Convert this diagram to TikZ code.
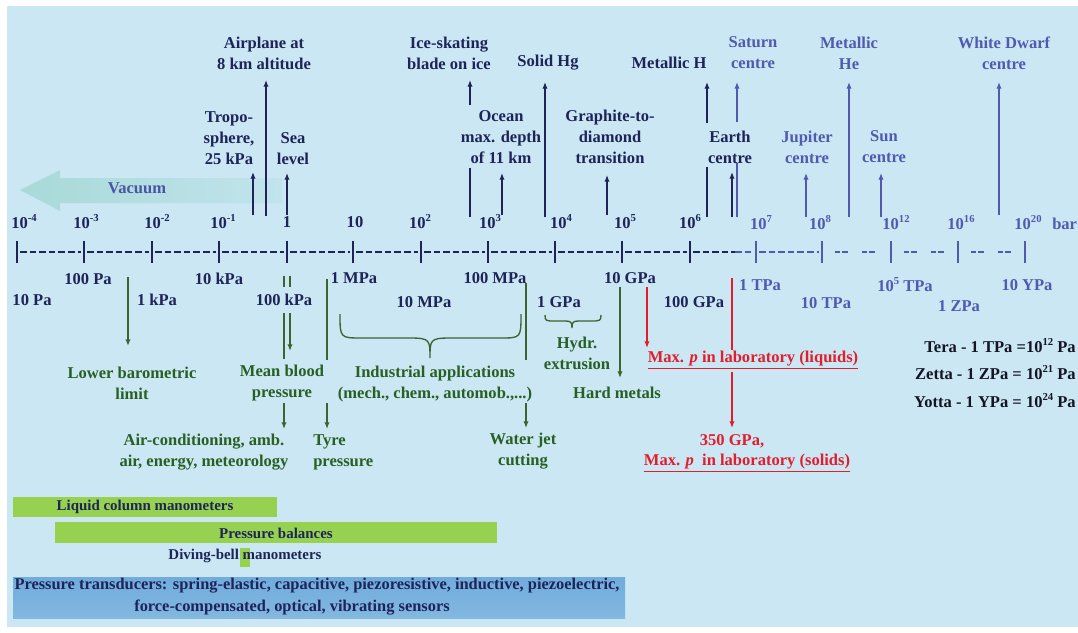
\documentclass[tikz,border=0pt]{standalone}
\usepackage{fontspec}
\setmainfont{Liberation Serif}
\usetikzlibrary{arrows.meta}
\definecolor{bg}{RGB}{202,231,243}
\definecolor{navy}{RGB}{30,35,88}
\definecolor{bluet}{RGB}{80,90,175}
\definecolor{greent}{RGB}{40,95,35}
\definecolor{greenl}{RGB}{60,100,45}
\definecolor{redt}{RGB}{225,30,45}
\definecolor{barg}{RGB}{150,210,80}
\definecolor{barb}{RGB}{112,172,220}
\definecolor{vac}{RGB}{160,215,210}
\definecolor{legk}{RGB}{20,20,35}
\newcommand{\sx}[1]{\raisebox{0.42em}{\fontsize{8}{8}\selectfont #1}}
\begin{document}
\begin{tikzpicture}[x=0.75pt,y=-0.75pt,
  lab/.style={font=\fontsize{12.4}{15.75}\selectfont\bfseries, align=center, inner sep=0pt, text=navy},
  bl/.style={lab, text=bluet},
  gl/.style={lab, text=greent},
  rl/.style={lab, text=redt},
  kl/.style={lab, text=legk},
  barl/.style={font=\fontsize{11.2}{15.5}\selectfont\bfseries, align=center, inner sep=0pt, text=navy},
  tbarl/.style={font=\fontsize{12.3}{15.5}\selectfont\bfseries, align=center, inner sep=0pt, text=navy},
  tip/.style={-{Latex[length=5pt,width=4pt]}},
  nvl/.style={draw=navy, line width=1pt},
  bll/.style={draw=bluet, line width=1pt},
  grl/.style={draw=greenl, line width=1pt},
  rdl/.style={draw=redt, line width=1pt},
  tick/.style={line width=1.5pt},
  dsh/.style={line width=1.4pt, dash pattern=on 4.9pt off 2.3pt},
  dd/.style={line width=1.4pt, dash pattern=on 4pt off 1.4pt}
]
\useasboundingbox (0,0) rectangle (1078,632);
\fill[white] (0,0) rectangle (1078,632);
\fill[bg] (7,6) rectangle (1078,627);

% vacuum arrow (soft)
\shade[left color=vac, right color=vac!25!bg, opacity=0.8] (20,190) -- (60,170) -- (60,178) -- (282,178) -- (282,203) -- (60,203) -- (60,211) -- cycle;
\node[lab, text=bluet!90!navy] (vacuum) at (137,188) {Vacuum};

% scale line
\foreach \a/\b in {17/84,84/152,152/219,219/287,287/353,353/421,421/488,488/555,555/622,622/690}
  \draw[navy, dsh] (\a+3,252) -- (\b-3,252);
\draw[navy, dsh] (693,252) -- (735,252);
\draw[bluet, dsh] (735,252) -- (753,252);
\draw[bluet, dsh] (759,252) -- (819,252);
\foreach \a in {822,891,958}{
  \draw[bluet, dd] (\a+13,252) -- (\a+26,252);
  \draw[bluet, dd] (\a+40,252) -- (\a+53,252);
}
\foreach \x in {17,84,152,219,287,353,421,488,555,622,690}
  \draw[navy, tick] (\x,241) -- (\x,263);
\foreach \x in {756,822,891,958,1025}
  \draw[bluet, tick] (\x,241) -- (\x,263);

% bar labels
\node[lab] (b-4) at (24,222) {10\sx{-4}};
\node[lab] (b-3) at (86,222) {10\sx{-3}};
\node[lab] (b-2) at (157,222) {10\sx{-2}};
\node[lab] (b-1) at (223,222) {10\sx{-1}};
\node[lab] (b0) at (287,222) {1};
\node[lab] (b1) at (355,222) {10};
\node[lab] (b2) at (420,222) {10\sx{2}};
\node[lab] (b3) at (490,222) {10\sx{3}};
\node[lab] (b4) at (561,222) {10\sx{4}};
\node[lab] (b5) at (625,222) {10\sx{5}};
\node[lab] (b6) at (690,222) {10\sx{6}};
\node[bl] (b7) at (761,223) {10\sx{7}};
\node[bl] (b8) at (820,223) {10\sx{8}};
\node[bl] (b12) at (896,223) {10\sx{12}};
\node[bl] (b16) at (961,223) {10\sx{16}};
\node[bl] (b20) at (1028,223) {10\sx{20}};
\node[bl, anchor=west] (bar) at (1052,224) {bar};

% pascal labels
\node[lab] (p100) at (88,279) {100 Pa};
\node[lab] (p10) at (32,300) {10 Pa};
\node[lab] (p1k) at (157,300) {1 kPa};
\node[lab] (p10k) at (219,279) {10 kPa};
\node[lab] (p100k) at (284,300) {100 kPa};
\node[lab] (p1M) at (354,278) {1 MPa};
\node[lab] (p10M) at (424,302) {10 MPa};
\node[lab] (p100M) at (495,278) {100 MPa};
\node[lab] (p1G) at (559,302) {1 GPa};
\node[lab] (p10G) at (630,278) {10 GPa};
\node[lab] (p100G) at (694,302) {100 GPa};
\node[bl] (p1T) at (760,285) {1 TPa};
\node[bl] (p10T) at (826,303) {10 TPa};
\node[bl] (p105T) at (905,285) {10\sx{5} TPa};
\node[bl] (p1Z) at (959,306) {1 ZPa};
\node[bl] (p10Y) at (1027,285) {10 YPa};

% top labels
\node[lab] (air) at (264,53) {Airplane at\\8 km altitude};
\node[lab] (tropo) at (229,138) {Tropo-\\sphere,\\25 kPa};
\node[lab] (sea) at (293,149) {Sea\\level};
\node[lab] (ice) at (449,53) {Ice-skating\\blade on ice};
\node[lab] (ocean) at (501,137) {Ocean\\max. depth\\of 11 km};
\node[lab] (hg) at (548,63) {Solid Hg};
\node[lab] (graph) at (610,137) {Graphite-to-\\diamond\\transition};
\node[lab] (meth) at (669,63) {Metallic H};
\node[lab] (earth) at (730,147) {Earth\\centre};
\node[bl] (saturn) at (753,53) {Saturn\\centre};
\node[bl] (jup) at (807,147) {Jupiter\\centre};
\node[bl] (mhe) at (849,53) {Metallic\\He};
\node[bl] (sun) at (884,147) {Sun\\centre};
\node[bl] (wd) at (1004,53) {White Dwarf\\centre};

% up arrows
\foreach \n/\x/\a/\b in {tr/253/215/172, ai/266/216/80, se/287/215/173, oc/502/215/173, hg/545/217/82, gr/607/215/175, ea/732/217/172}{
  \coordinate (\n-s) at (\x,\a); \coordinate (\n-e) at (\x,\b);
  \draw[nvl, tip] (\n-s) -- (\n-e);
}
\foreach \n/\x/\a/\b in {ju/806/217/173, mh/849/217/82, su/881/217/173, wd/999/215/82}{
  \coordinate (\n-s) at (\x,\a); \coordinate (\n-e) at (\x,\b);
  \draw[bll, tip] (\n-s) -- (\n-e);
}
% broken ones
\coordinate (ic-s) at (470,217); \coordinate (ic-m) at (470,168);
\coordinate (ic-n) at (470,105); \coordinate (ic-e) at (470,80);
\draw[nvl] (ic-s) -- (ic-m); \draw[nvl, tip] (ic-n) -- (ic-e);
\coordinate (mt-s) at (707,217); \coordinate (mt-m) at (707,167);
\coordinate (mt-n) at (707,123); \coordinate (mt-e) at (707,82);
\draw[nvl] (mt-s) -- (mt-m); \draw[nvl, tip] (mt-n) -- (mt-e);
\coordinate (sa-s) at (737,217); \coordinate (sa-m) at (737,163);
\coordinate (sa-n) at (737,122); \coordinate (sa-e) at (737,82);
\draw[bll] (sa-s) -- (sa-m); \draw[bll, tip] (sa-n) -- (sa-e);

% lower labels (green)
\node[gl] (lbl) at (132,383) {Lower barometric\\limit};
\node[gl] (mbp) at (282,383) {Mean blood\\pressure};
\node[gl] (ind) at (435,384) {Industrial applications\\(mech., chem., automob.,...)};
\node[gl] (hyd) at (577,353) {Hydr.\\extrusion};
\node[gl] (hard) at (617,393) {Hard metals};
\node[gl] (acd) at (204,452) {Air-conditioning, amb.\\air, energy, meteorology};
\node[gl, align=left, anchor=west] (tyre) at (313,452) {Tyre\\pressure};
\node[gl] (wjc) at (523,451) {Water jet\\cutting};

% green connectors
\coordinate (lb-s) at (128,277); \coordinate (lb-e) at (128,346);
\draw[grl, tip] (lb-s) -- (lb-e);
\coordinate (mb-s) at (290,276); \coordinate (mb-a) at (290,287);
\coordinate (mb-b) at (290,313); \coordinate (mb-e) at (290,351);
\draw[grl] (mb-s) -- (mb-a); \draw[grl, tip] (mb-b) -- (mb-e);
\coordinate (ac-s) at (284,276); \coordinate (ac-a) at (284,287);
\coordinate (ac-b) at (284,313); \coordinate (ac-c) at (284,359);
\coordinate (ac-d) at (284,403); \coordinate (ac-e) at (284,429);
\draw[grl] (ac-s) -- (ac-a); \draw[grl] (ac-b) -- (ac-c); \draw[grl, tip] (ac-d) -- (ac-e);
\coordinate (ty-s) at (327,279); \coordinate (ty-a) at (327,360);
\coordinate (ty-b) at (327,403); \coordinate (ty-e) at (327,429);
\draw[grl] (ty-s) -- (ty-a); \draw[grl, tip] (ty-b) -- (ty-e);
\coordinate (wj-s) at (526,283); \coordinate (wj-a) at (526,360);
\coordinate (wj-b) at (526,403); \coordinate (wj-e) at (526,428);
\draw[grl] (wj-s) -- (wj-a); \draw[grl, tip] (wj-b) -- (wj-e);
\coordinate (hm-s) at (620,287); \coordinate (hm-e) at (620,378);
\draw[grl, tip] (hm-s) -- (hm-e);
% braces
\draw[grl] (340,314) .. controls (340,338) and (340,338) .. (362,338) -- (410,338)
  .. controls (430,338) and (430,340) .. (430,358) .. controls (430,340) and (430,338) .. (450,338)
  -- (500,338) .. controls (521,338) and (521,338) .. (521,314);
\draw[grl] (545,315) .. controls (545,321) and (546,321) .. (555,321) -- (565,321)
  .. controls (571,321) and (572,322) .. (572,328) .. controls (572,322) and (573,321) .. (579,321)
  -- (590,321) .. controls (600,321) and (601,321) .. (601,315);

% red
\node[rl] (liq) at (753,360) {\underline{Max. \textit{p} in laboratory (liquids)}};
\node[rl] (sol1) at (732,441) {350 GPa,};
\node[rl] (sol2) at (747,463) {\underline{Max. \textit{p}\ \ in laboratory (solids)}};
\coordinate (r1-s) at (647,287); \coordinate (r1-e) at (647,348);
\draw[rdl, tip] (r1-s) -- (r1-e);
\coordinate (r2-s) at (732,278); \coordinate (r2-a) at (732,350);
\coordinate (r2-b) at (732,372); \coordinate (r2-e) at (732,428);
\draw[rdl] (r2-s) -- (r2-a); \draw[rdl, tip] (r2-b) -- (r2-e);

% legend
\node[kl, anchor=east] (tera) at (1076,346) {Tera - 1 TPa =10\sx{12} Pa};
\node[kl, anchor=east] (zetta) at (1076,373) {Zetta - 1 ZPa = 10\sx{21} Pa};
\node[kl, anchor=east] (yotta) at (1076,401) {Yotta - 1 YPa = 10\sx{24} Pa};

% bars
\fill[barg] (13,497) rectangle (277,517);
\node[barl] (lcm) at (145,507) {Liquid column manometers};
\fill[barg] (55,522) rectangle (497,543);
\node[barl] (pbal) at (276,533) {Pressure balances};
\fill[barg] (240,548) rectangle (250,567);
\node[barl] (dbm) at (245,556) {Diving-bell manometers};
\shade[top color=barb, bottom color=barb!80!bg] (13,577) rectangle (625,618);
\node[tbarl] (pt1) at (317,586) {Pressure transducers: spring-elastic, capacitive, piezoresistive, inductive, piezoelectric,};
\node[tbarl] (pt2) at (292,608) {force-compensated, optical, vibrating sensors};
\end{tikzpicture}
\end{document}
